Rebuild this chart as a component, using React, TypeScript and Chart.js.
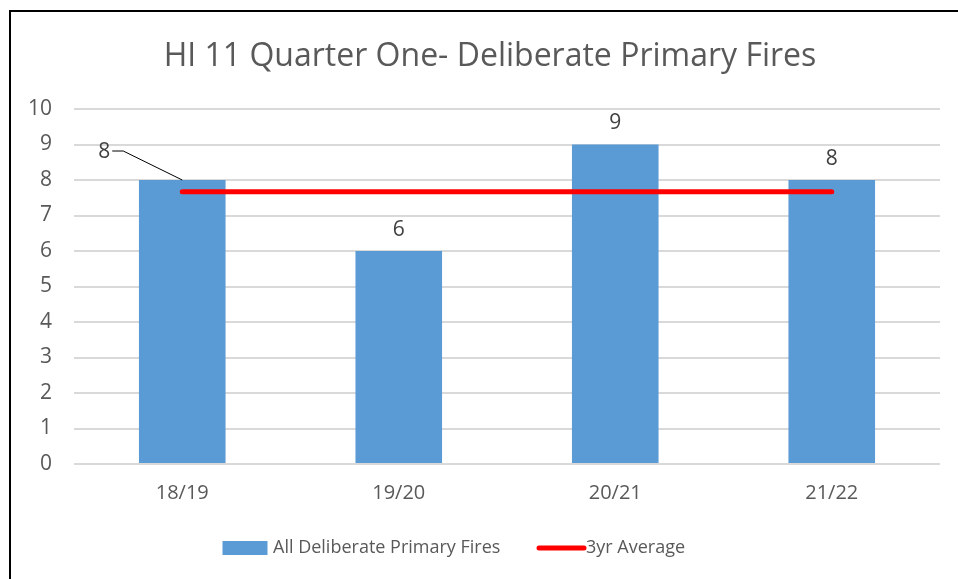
import React, { useEffect, useRef } from "react";
import { Chart, registerables } from "chart.js";

Chart.register(...registerables);

const titleText = "HI 11 Quarter One- Deliberate Primary Fires";
const categories = ["18/19", "19/20", "20/21", "21/22"];
const fireCounts = [8, 6, 9, 8];
const threeYearAverage = [7.67, 7.67, 7.67, 7.67];
const seriesNames = ["All Deliberate Primary Fires", "3yr Average"];
const yMin = 0;
const yMax = 10;

const FONT = "'Open Sans', 'Noto Sans', sans-serif";
const TEXT = "#595959";
const BLUE = "#5B9BD5";
const RED = "#FF0000";

const labelPlugin = {
  id: "barLabels",
  afterDatasetsDraw(chart: any) {
    const ctx = chart.ctx;
    const meta = chart.getDatasetMeta(0);
    ctx.save();
    ctx.font = `21px ${FONT}`;
    ctx.fillStyle = "#404040";
    ctx.textAlign = "center";
    ctx.textBaseline = "middle";
    meta.data.forEach((bar: any, i: number) => {
      const v = fireCounts[i];
      if (i === 0) {
        const lx = bar.x - 78;
        const ly = bar.y - 28;
        ctx.fillText(String(v), lx, ly);
        ctx.strokeStyle = "#000000";
        ctx.lineWidth = 1;
        ctx.beginPath();
        ctx.moveTo(lx + 8, ly - 1);
        ctx.lineTo(lx + 19, ly - 1);
        ctx.lineTo(bar.x, bar.y);
        ctx.stroke();
      } else {
        ctx.fillText(String(v), bar.x, bar.y - 21);
      }
    });
    ctx.restore();
  },
  afterDraw(chart: any) {
    const ctx = chart.ctx;
    ctx.save();
    // title
    ctx.font = `32px ${FONT}`;
    ctx.fillStyle = TEXT;
    ctx.textAlign = "center";
    ctx.textBaseline = "alphabetic";
    ctx.fillText(titleText, 479, 54);
    // legend
    ctx.font = `18px ${FONT}`;
    ctx.textBaseline = "middle";
    ctx.textAlign = "left";
    const cy = 536;
    ctx.fillStyle = BLUE;
    ctx.fillRect(211.5, cy - 7, 45, 14);
    ctx.fillStyle = TEXT;
    ctx.fillText(seriesNames[0], 262, cy);
    ctx.strokeStyle = RED;
    ctx.lineWidth = 5;
    ctx.lineCap = "round";
    ctx.beginPath();
    ctx.moveTo(528, cy);
    ctx.lineTo(573, cy);
    ctx.stroke();
    ctx.fillText(seriesNames[1], 575, cy);
    ctx.restore();
  },
};

export default function App() {
  const ref = useRef<HTMLCanvasElement | null>(null);
  useEffect(() => {
    if (!ref.current) return;
    const chart = new Chart(ref.current, {
      type: "bar",
      data: {
        labels: categories,
        datasets: [
          {
            type: "bar",
            label: seriesNames[0],
            data: fireCounts,
            backgroundColor: BLUE,
            borderWidth: 0,
            categoryPercentage: 1,
            barPercentage: 0.4,
            order: 2,
          } as any,
          {
            type: "line",
            label: seriesNames[1],
            data: threeYearAverage,
            borderColor: RED,
            borderWidth: 5,
            borderCapStyle: "round",
            pointRadius: 0,
            fill: false,
            order: 1,
          } as any,
        ],
      },
      options: {
        responsive: false,
        animation: false,
        layout: { padding: { left: 0, right: 18, top: 97, bottom: 60 } },
        plugins: {
          legend: { display: false },
          tooltip: { enabled: false },
          title: { display: false },
        },
        scales: {
          x: {
            grid: { display: false, drawTicks: false },
            border: { display: false },
            ticks: { color: TEXT, font: { family: FONT, size: 20 }, padding: 17 },
            afterFit: (s: any) => {
              s.height = 55;
            },
          },
          y: {
            min: yMin,
            max: yMax,
            ticks: { stepSize: 1, color: TEXT, font: { family: FONT, size: 21 }, padding: 22 },
            grid: { color: "#D9D9D9", lineWidth: 2, drawTicks: false },
            border: { display: false },
            afterFit: (s: any) => {
              s.width = 63;
            },
          },
        },
      },
      plugins: [labelPlugin],
    });
    return () => chart.destroy();
  }, []);
  return (
    <div>
      <div
        style={{
          position: "fixed",
          left: 9,
          top: 10,
          width: 1200,
          height: 800,
          border: "2px solid #000",
          background: "#fff",
        }}
      />
      <canvas
        ref={ref}
        width={947}
        height={567}
        style={{ position: "fixed", left: 11, top: 12 }}
      />
    </div>
  );
}
